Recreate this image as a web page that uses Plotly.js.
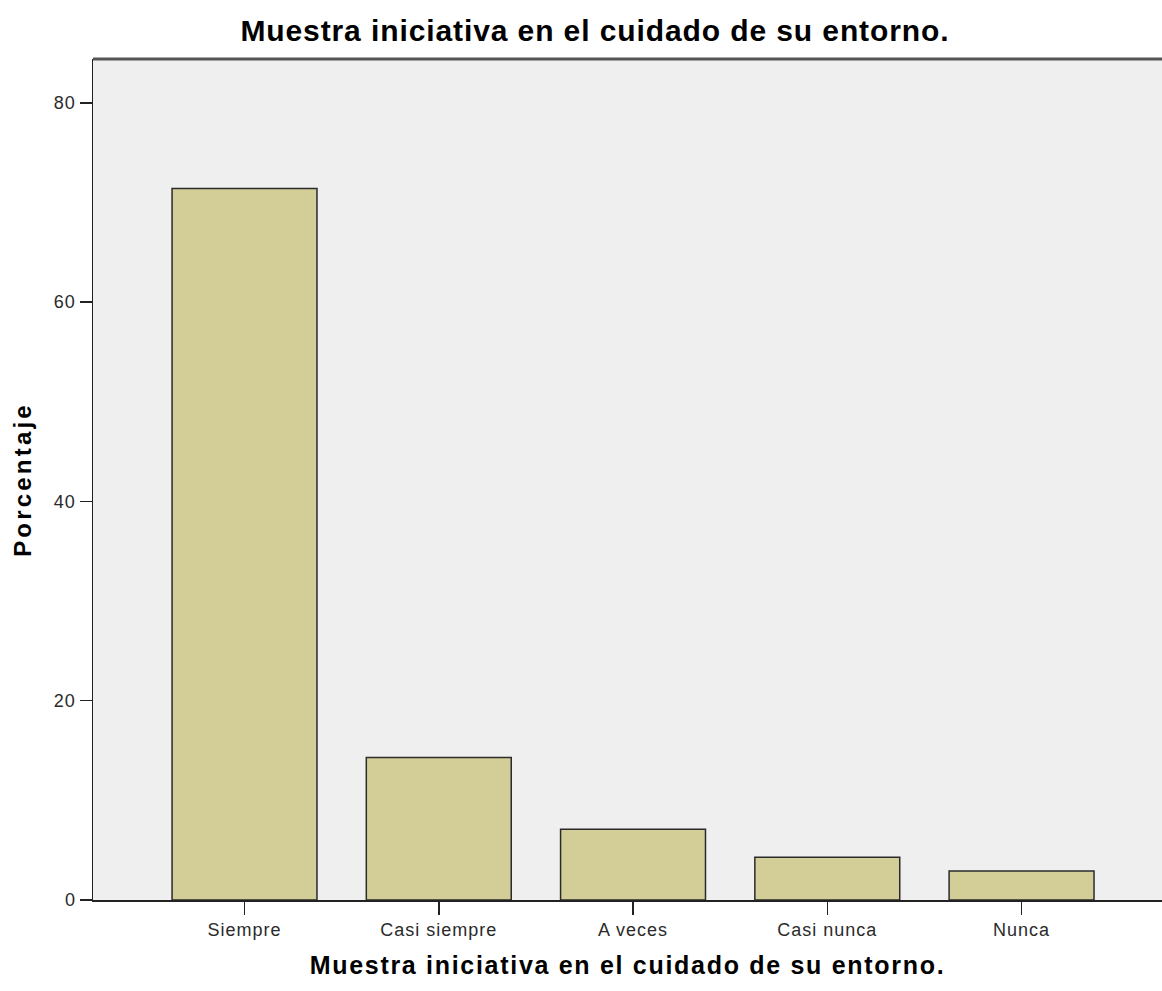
<!DOCTYPE html>
<html>
<head>
<meta charset="utf-8">
<script src="https://cdn.plot.ly/plotly-3.0.1.min.js"></script>
<style>
html,body{margin:0;padding:0;background:#fff;}
#chart{width:1162px;height:991px;}
#chart .gtitle{letter-spacing:0.9px;}
#chart .xtitle{letter-spacing:1.7px;}
#chart .ytitle{letter-spacing:3.2px;}
#chart .xtick text{letter-spacing:1px;}
#chart .ytick text{letter-spacing:1px;}
</style>
</head>
<body>
<div id="chart"></div>
<script>
const categories = ["Siempre", "Casi siempre", "A veces", "Casi nunca", "Nunca"];
const percentages = [71.4, 14.3, 7.1, 4.3, 2.9];
const yTicks = [0, 20, 40, 60, 80];
const chartTitle = "Muestra iniciativa en el cuidado de su entorno.";
const xTitle = "Muestra iniciativa en el cuidado de su entorno.";
const yTitle = "Porcentaje";

const fontFam = "'Liberation Sans', Arial, sans-serif";

const trace = {
  type: "bar",
  x: categories,
  y: percentages,
  width: 0.746,
  marker: { color: "#d3ce97", line: { color: "#2b2b2b", width: 1.5 } },
  hoverinfo: "x+y"
};

const layout = {
  width: 1162, height: 991,
  margin: { l: 93, r: 0, t: 59, b: 91, pad: 0 },
  paper_bgcolor: "#ffffff",
  plot_bgcolor: "#efefef",
  showlegend: false,
  title: {
    text: "<b>" + chartTitle + "</b>",
    font: { family: fontFam, size: 30, color: "#000" },
    x: 0.512, xanchor: "center", y: 0.969, yanchor: "middle"
  },
  xaxis: {
    range: [-0.78, 4.723],
    showgrid: false, zeroline: false,
    showline: true, linecolor: "#222", linewidth: 1.5,
    ticks: "outside", ticklen: 13, tickwidth: 1.5, tickcolor: "#222",
    tickfont: { family: fontFam, size: 18, color: "#2a2a2a" },
    title: { text: "<b>" + xTitle + "</b>", font: { family: fontFam, size: 25, color: "#000" }, standoff: 17 }
  },
  yaxis: {
    range: [0, 84.4],
    tickvals: yTicks,
    showgrid: false, zeroline: false,
    showline: true, linecolor: "#222", linewidth: 1.5,
    ticks: "outside", ticklen: 12, tickwidth: 1.5, tickcolor: "#222",
    tickfont: { family: fontFam, size: 18, color: "#2a2a2a" },
    title: { text: "<b>" + yTitle + "</b>", font: { family: fontFam, size: 24, color: "#000" }, standoff: 17 }
  },
  shapes: [
    { type: "line", xref: "paper", yref: "paper", x0: 0, x1: 1, y0: 1, y1: 1, line: { color: "#555", width: 3 } }
  ]
};

Plotly.newPlot("chart", [trace], layout, { displayModeBar: false, staticPlot: true });
</script>
</body>
</html>
